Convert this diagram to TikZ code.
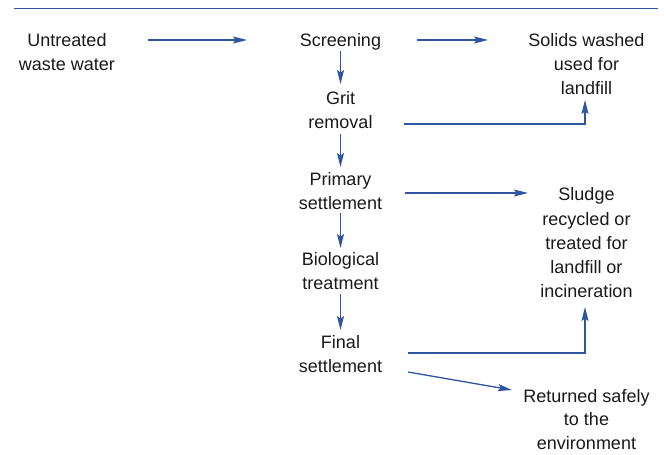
\documentclass[tikz,border=0pt]{standalone}
\usepackage{fontspec}
\setmainfont{Liberation Sans}
\usetikzlibrary{arrows.meta,calc}
\definecolor{flowblue}{RGB}{45,85,160}
\definecolor{txtcol}{RGB}{25,25,25}
\tikzset{
  txt/.style={align=center, inner sep=0pt, anchor=base, text=txtcol,
    font=\fontsize{18bp}{23.8bp}\selectfont},
  arr/.style={draw=flowblue, line width=1.3bp,
    -{Stealth[length=14bp,width=7bp,inset=2.5bp]}},
  rule/.style={draw=flowblue, line width=1.3bp}
}
\begin{document}
\begin{tikzpicture}[x=1bp,y=-1bp]
\useasboundingbox (0,0) rectangle (666,455);
\draw[rule] (14,8.5) -- (658,8.5);
% base anchor = baseline of the last line
\node[txt] (untreated) at (67,70.3) {Untreated\\waste water};
\node[txt] (screen) at (340.5,46.5) {Screening};
\node[txt] (solids) at (586.5,94.1) {Solids washed\\used for\\landfill};
\node[txt] (grit) at (340.5,128.3) {Grit\\removal};
\node[txt] (primary) at (340.5,209.3) {Primary\\settlement};
\node[txt, font=\fontsize{18bp}{24.2bp}\selectfont] (sludge) at (586.5,297.8) {Sludge\\recycled or\\treated for\\landfill or\\incineration};
\node[txt] (bio) at (340.5,289.3) {Biological\\treatment};
\node[txt] (final) at (340.5,372.3) {Final\\settlement};
\node[txt] (returned) at (586.5,449.6) {Returned safely\\to the\\environment};
\draw[arr] ($(untreated.base)+(81,-30.3)$) -- ($(screen.base)+(-93.5,-6.5)$);
\draw[arr] ($(screen.base)+(76.5,-6.5)$) -- ($(solids.base)+(-98.5,-54.1)$);
\draw[arr] ($(screen.base)+(0,4.5)$) -- ($(grit.base)+(0,-44.3)$);
\draw[arr] ($(grit.base)+(63.5,-4.3)$) -| ($(solids.base)+(-1.5,5.9)$);
\draw[arr] ($(grit.base)+(0,5.7)$) -- ($(primary.base)+(0,-42.3)$);
\draw[arr] ($(primary.base)+(64.5,-16.3)$) -- ($(sludge.base)+(-58.5,-104.8)$);
\draw[arr] ($(primary.base)+(0,3.7)$) -- ($(bio.base)+(0,-41.3)$);
\draw[arr] ($(bio.base)+(0,4.7)$) -- ($(final.base)+(0,-42.3)$);
\draw[arr] ($(final.base)+(67.5,-19.3)$) -| ($(sludge.base)+(-1.5,9.2)$);
\draw[arr] ($(final.base)+(67.5,-0.3)$) -- ($(returned.base)+(-74.5,-59.6)$);
\end{tikzpicture}
\end{document}
